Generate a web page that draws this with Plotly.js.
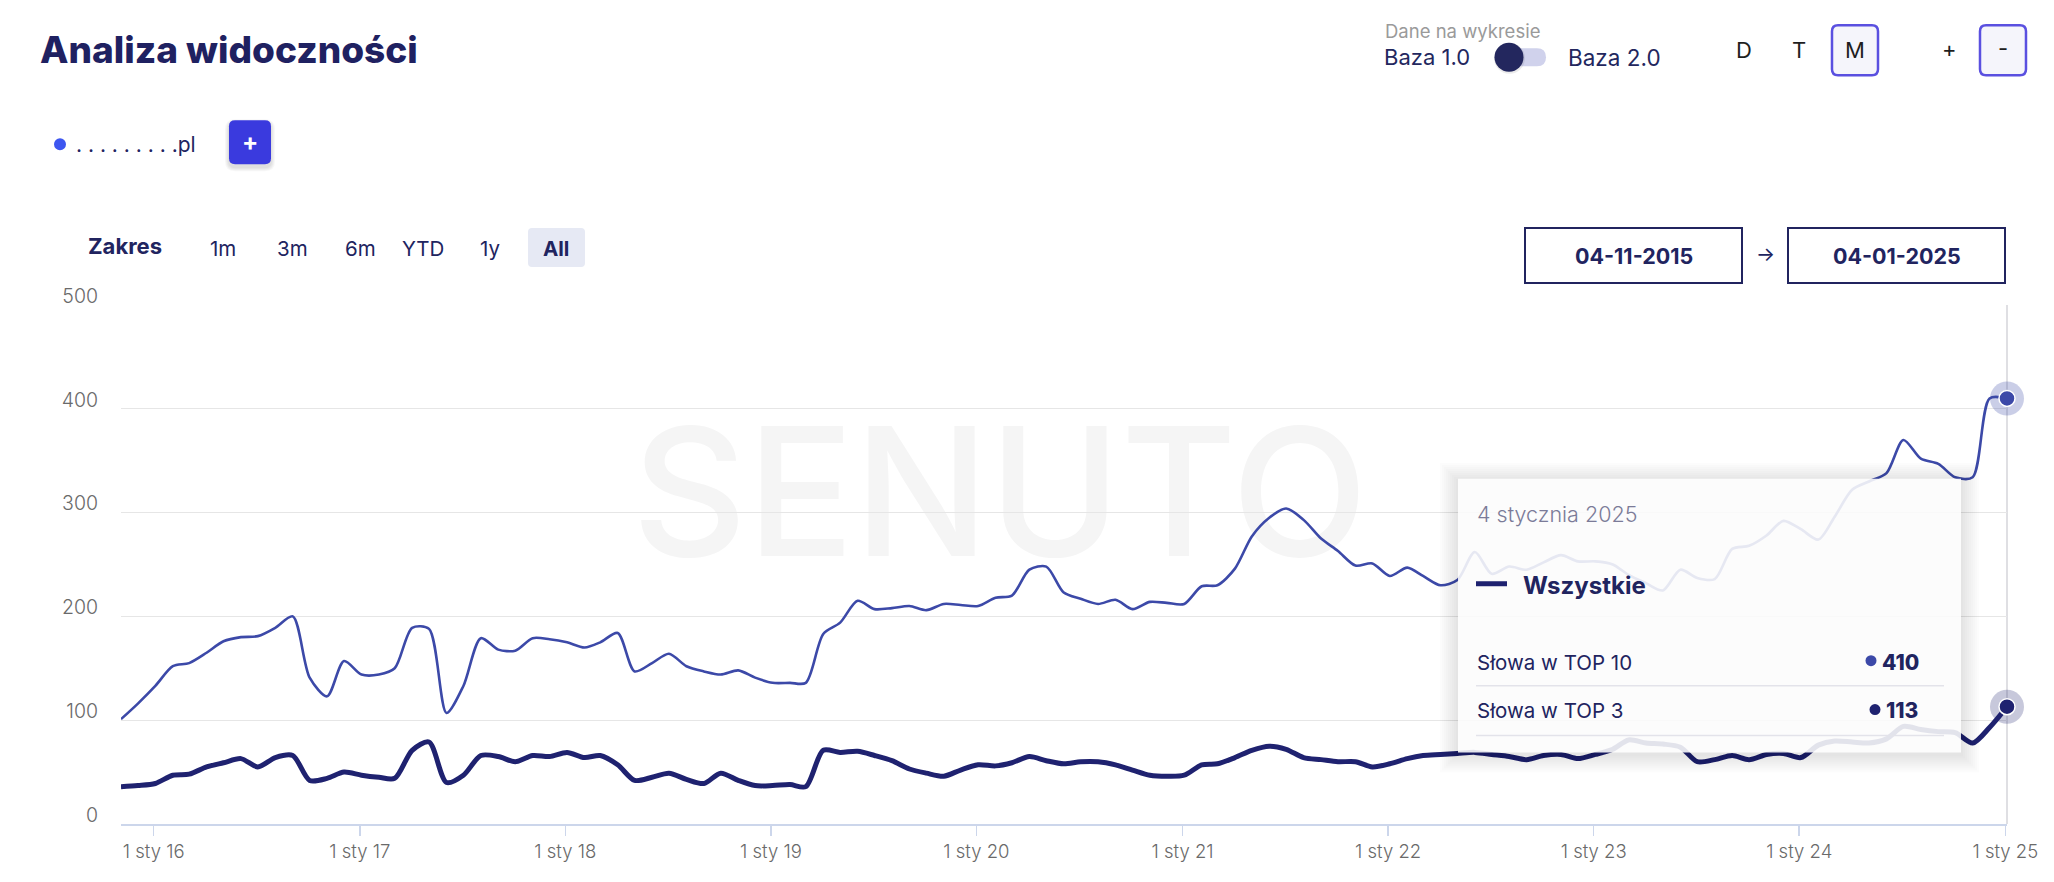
<!DOCTYPE html>
<html><head><meta charset="utf-8">
<script src="https://cdn.plot.ly/plotly-3.0.1.min.js"></script>
<style>html,body{margin:0;padding:0;background:#fff;overflow:hidden}#chart{width:2054px;height:882px}</style>
</head><body><div id="chart"></div>
<script>
// ---------- DATA ----------
const dates = [
 '2015-11-04','2015-12-04',
 '2016-01-04','2016-02-04','2016-03-04','2016-04-04','2016-05-04','2016-06-04','2016-07-04','2016-08-04','2016-09-04','2016-10-04','2016-11-04','2016-12-04',
 '2017-01-04','2017-02-04','2017-03-04','2017-04-04','2017-05-04','2017-06-04','2017-07-04','2017-08-04','2017-09-04','2017-10-04','2017-11-04','2017-12-04',
 '2018-01-04','2018-02-04','2018-03-04','2018-04-04','2018-05-04','2018-06-04','2018-07-04','2018-08-04','2018-09-04','2018-10-04','2018-11-04','2018-12-04',
 '2019-01-04','2019-02-04','2019-03-04','2019-04-04','2019-05-04','2019-06-04','2019-07-04','2019-08-04','2019-09-04','2019-10-04','2019-11-04','2019-12-04',
 '2020-01-04','2020-02-04','2020-03-04','2020-04-04','2020-05-04','2020-06-04','2020-07-04','2020-08-04','2020-09-04','2020-10-04','2020-11-04','2020-12-04',
 '2021-01-04','2021-02-04','2021-03-04','2021-04-04','2021-05-04','2021-06-04','2021-07-04','2021-08-04','2021-09-04','2021-10-04','2021-11-04','2021-12-04',
 '2022-01-04','2022-02-04','2022-03-04','2022-04-04','2022-05-04','2022-06-04','2022-07-04','2022-08-04','2022-09-04','2022-10-04','2022-11-04','2022-12-04',
 '2023-01-04','2023-02-04','2023-03-04','2023-04-04','2023-05-04','2023-06-04','2023-07-04','2023-08-04','2023-09-04','2023-10-04','2023-11-04','2023-12-04',
 '2024-01-04','2024-02-04','2024-03-04','2024-04-04','2024-05-04','2024-06-04','2024-07-04','2024-08-04','2024-09-04','2024-10-04','2024-11-04','2024-12-04',
 '2025-01-04'
];
const top10 = [
 101,116,
 133,152,155,165,176,180,181,189,200,141,123,157,
 144,144,150,189,188,107,133,179,168,167,179,178,
 175,170,175,184,147,155,164,152,147,144,148,141,
 136,136,136,183,194,215,207,208,210,206,212,211,
 210,218,220,245,248,223,217,212,216,207,214,213,
 212,229,230,246,277,295,304,293,275,263,249,251,
 239,247,239,230,235,262,241,248,245,252,259,253,
 253,250,240,232,225,245,237,236,265,268,278,292,
 284,274,296,322,330,338,370,352,347,334,334,410,
 410
];
const top3 = [
 36,37,
 39,47,48,55,59,63,55,64,66,42,44,50,
 47,45,44,71,79,40,47,66,65,60,66,65,
 69,64,66,57,42,45,49,43,39,49,42,37,
 37,38,36,71,69,70,66,61,53,49,46,52,
 57,56,59,65,61,58,60,60,57,52,47,46,
 47,57,58,64,71,75,72,64,62,60,60,55,
 58,63,66,67,68,69,67,65,62,66,67,63,
 67,72,81,78,77,74,60,62,66,62,67,68,
 64,76,80,79,78,82,94,91,89,88,78,93,
 113
];
const seriesNames = ['Słowa w TOP 10','Słowa w TOP 3'];
const xTickVals = ['2016-01-01','2017-01-01','2018-01-01','2019-01-01','2020-01-01','2021-01-01','2022-01-01','2023-01-01','2024-01-01','2025-01-01'];
const xTickText = ['1 sty 16','1 sty 17','1 sty 18','1 sty 19','1 sty 20','1 sty 21','1 sty 22','1 sty 23','1 sty 24','1 sty 25'];
const yTickVals = [0,100,200,300,400,500];
const rangeLabels = ['1m','3m','6m','YTD','1y','All'];
const granularity = ['D','T','M'];
const dateFrom = '04-11-2015';
const dateTo = '04-01-2025';
const tooltipDate = '4 stycznia 2025';
const groupName = 'Wszystkie';
const domainLabel = '. . . . . . . . .pl';

// ---------- STYLE / GEOMETRY ----------
const F = 'Inter, "Open Sans", sans-serif';
const NAVY = '#21245f';
const C10 = '#3c49a8', C3 = '#1f2270';
const L = 121, R = 2007, T = 305, B = 824.5;
const px = x => (x - L) / (R - L);
const py = y => (B - y) / (B - T);

function txt(x, y, text, size, color, xanchor, weight) {
  return {xref:'paper', yref:'paper', x:px(x), y:py(y), text:text, showarrow:false,
    xanchor:xanchor||'left', yanchor:'middle',
    font:{family:F, size:size, color:color, weight:weight||400}};
}
function rect(x0,y0,x1,y1,fill,lineColor,lineW,layer) {
  return {type:'rect', xref:'paper', yref:'paper', x0:px(x0), x1:px(x1), y0:py(y1), y1:py(y0),
    fillcolor:fill, line:{color:lineColor||'rgba(0,0,0,0)', width:lineW||0}, layer:layer||'above'};
}
function rr(x0,y0,x1,y1,r,fill,lineColor,lineW) {
  const X = v => px(v).toFixed(5), Y = v => py(v).toFixed(5);
  const p = `M${X(x0+r)},${Y(y0)} L${X(x1-r)},${Y(y0)} Q${X(x1)},${Y(y0)} ${X(x1)},${Y(y0+r)} `+
    `L${X(x1)},${Y(y1-r)} Q${X(x1)},${Y(y1)} ${X(x1-r)},${Y(y1)} L${X(x0+r)},${Y(y1)} `+
    `Q${X(x0)},${Y(y1)} ${X(x0)},${Y(y1-r)} L${X(x0)},${Y(y0+r)} Q${X(x0)},${Y(y0)} ${X(x0+r)},${Y(y0)} Z`;
  return {type:'path', xref:'paper', yref:'paper', path:p, fillcolor:fill,
    line:{color:lineColor||'rgba(0,0,0,0)', width:lineW||0}, layer:'above'};
}
function circ(cx,cy,r,fill) {
  return {type:'circle', xref:'paper', yref:'paper', x0:px(cx-r), x1:px(cx+r), y0:py(cy+r), y1:py(cy-r),
    fillcolor:fill, line:{width:0}, layer:'above'};
}
function hline(x0,x1,y,color,w,layer) {
  return {type:'line', xref:'paper', yref:'paper', x0:px(x0), x1:px(x1), y0:py(y), y1:py(y),
    line:{color:color, width:w}, layer:layer||'above'};
}

const last = dates.length - 1;

// ---------- TRACES ----------
const traces = [
  {x:dates, y:top10, name:seriesNames[0], type:'scatter', mode:'lines',
   line:{color:C10, width:2.6, shape:'spline', smoothing:0.8}, hoverinfo:'skip'},
  {x:dates, y:top3, name:seriesNames[1], type:'scatter', mode:'lines',
   line:{color:C3, width:5, shape:'spline', smoothing:0.8}, hoverinfo:'skip'},
  {x:[dates[last]], y:[top10[last]], type:'scatter', mode:'markers', cliponaxis:false,
   marker:{size:34, color:'rgba(60,73,168,0.27)'}, hoverinfo:'skip'},
  {x:[dates[last]], y:[top3[last]], type:'scatter', mode:'markers', cliponaxis:false,
   marker:{size:34, color:'rgba(31,34,112,0.25)'}, hoverinfo:'skip'},
  {x:[dates[last]], y:[top10[last]], type:'scatter', mode:'markers', cliponaxis:false,
   marker:{size:16, color:C10, line:{color:'#ffffff', width:1.5}}, hoverinfo:'skip'},
  {x:[dates[last]], y:[top3[last]], type:'scatter', mode:'markers', cliponaxis:false,
   marker:{size:16, color:C3, line:{color:'#ffffff', width:1.5}}, hoverinfo:'skip'}
];

// ---------- SHAPES ----------
const shapes = [];
// watermark
shapes.push({type:'rect', xref:'paper', yref:'paper', x0:px(630), x1:px(1370), y0:py(566), y1:py(405),
  fillcolor:'rgba(0,0,0,0)', line:{width:0}, layer:'below',
  label:{text:'SENUTO', textposition:'middle center', font:{family:F, size:178, color:'#f5f5f5', weight:500}}});
// crosshair
shapes.push({type:'line', xref:'paper', yref:'paper', x0:px(2007), x1:px(2007), y0:0, y1:1,
  line:{color:'#d4d4da', width:1.5}, layer:'below'});
// legend dot + add button
shapes.push(circ(60,144,6,'#3d56f0'));
for (let i=1;i<=4;i++) shapes.push(rr(229-i,120-i+3,271+i,164+i+3,6+i,'rgba(0,0,0,0.03)'));
shapes.push(rr(229,120,271,164,6,'#3a3ade'));
// range 'All' box
shapes.push(rr(528,228,585,267,4,'#e6e9f4'));
// date boxes
shapes.push(rect(1525,228,1742,283,'#ffffff',NAVY,2));
shapes.push(rect(1788,228,2005,283,'#ffffff',NAVY,2));
// toggle
shapes.push(rr(1500,48,1546,66,9,'#d0d2ec'));
shapes.push(circ(1509.5,58,15.5,'rgba(0,0,0,0.08)'));
shapes.push(circ(1509,57,14.5,'#23275e'));
// M box and - box
shapes.push(rr(1832,25,1878,75,6,'#f5f5fb','#5a50e0',2.5));
shapes.push(rr(1980,25,2026,75,6,'#f5f5fb','#5a50e0',2.5));
// tooltip shadow + box
for (let i=1;i<=9;i++) shapes.push(rect(1458-i*2,479-i*2+2,1961+i*2,753+i*2+2,'rgba(0,0,0,0.011)'));
shapes.push(rect(1458,479,1961,753,'rgba(255,255,255,0.88)'));
shapes.push(hline(1476,1507,584,C3,5));
shapes.push(circ(1871,661,5.5,C10));
shapes.push(circ(1875,710,5.5,C3));
shapes.push(hline(1476,1944,686,'#e3e3ea',1.5));
shapes.push(hline(1476,1944,736,'#e3e3ea',1.5));

// ---------- ANNOTATIONS ----------
const ann = [];
ann.push(txt(38,49,'Analiza widoczności',37,'#1f2161','left',800));
ann.push(txt(1383,31,'Dane na wykresie',18.5,'#9a9a9a'));
ann.push(txt(1382,57,'Baza 1.0',22,'#23275e'));
ann.push(txt(1566,57,'Baza 2.0',22.5,'#23275e'));
const gx = [1744,1799,1855];
granularity.forEach((g,i)=>ann.push(txt(gx[i],50,g,22,'#1e1e1e','center')));
ann.push(txt(1949,49,'+',22,'#1e1e1e','center'));
ann.push(txt(2003,48,'-',22,'#1e1e1e','center'));
ann.push(txt(74,144,domainLabel,21,NAVY));
ann.push(txt(250,141,'+',24,'#ffffff','center',700));
ann.push(txt(86,246,'Zakres',22,NAVY,'left',700));
const rx = [223,292,360,423,490,556];
rangeLabels.forEach((r,i)=>ann.push(txt(rx[i],248,r,20.5,NAVY,'center', r==='All'?700:400)));
ann.push(txt(1633.5,255.5,dateFrom,21.5,NAVY,'center',700));
ann.push(txt(1765,254,'→',20,NAVY,'center'));
ann.push(txt(1896.5,255.5,dateTo,21.5,NAVY,'center',700));
// tooltip texts
ann.push(txt(1475,514,tooltipDate,21.5,'#7b7b98','left',300));
ann.push(txt(1521,586,groupName,24,NAVY,'left',700));
ann.push(txt(1475,663,seriesNames[0],20.5,NAVY));
ann.push(txt(1880,663,String(top10[last]),21,NAVY,'left',800));
ann.push(txt(1475,711,seriesNames[1],20.5,NAVY));
ann.push(txt(1884,711,String(top3[last]),21,NAVY,'left',800));

const layout = {
  width:2054, height:882,
  margin:{l:L, r:2054-R, t:T, b:882-B, pad:0},
  paper_bgcolor:'#ffffff', plot_bgcolor:'rgba(0,0,0,0)',
  showlegend:false, hovermode:false,
  font:{family:F},
  xaxis:{type:'date', range:[dates[0], dates[last]], tickvals:xTickVals, ticktext:xTickText,
    showgrid:false, zeroline:false, showline:true, linecolor:'#ccd6eb', linewidth:1.5,
    ticks:'outside', ticklen:10, tickwidth:1.5, tickcolor:'#ccd6eb',
    tickfont:{family:F, size:18.5, color:'#6a6a6a', weight:300}, fixedrange:true},
  yaxis:{range:[0,500], tickvals:yTickVals, showgrid:true, gridcolor:'#e6e6e6', gridwidth:1.2,
    zeroline:false, showline:false, ticks:'', ticklabelshift:-9, ticklabelstandoff:22,
    tickfont:{family:F, size:19.5, color:'#6a6a6a', weight:300}, fixedrange:true},
  shapes:shapes, annotations:ann
};
Plotly.newPlot('chart', traces, layout, {staticPlot:true, displayModeBar:false});
</script></body></html>
